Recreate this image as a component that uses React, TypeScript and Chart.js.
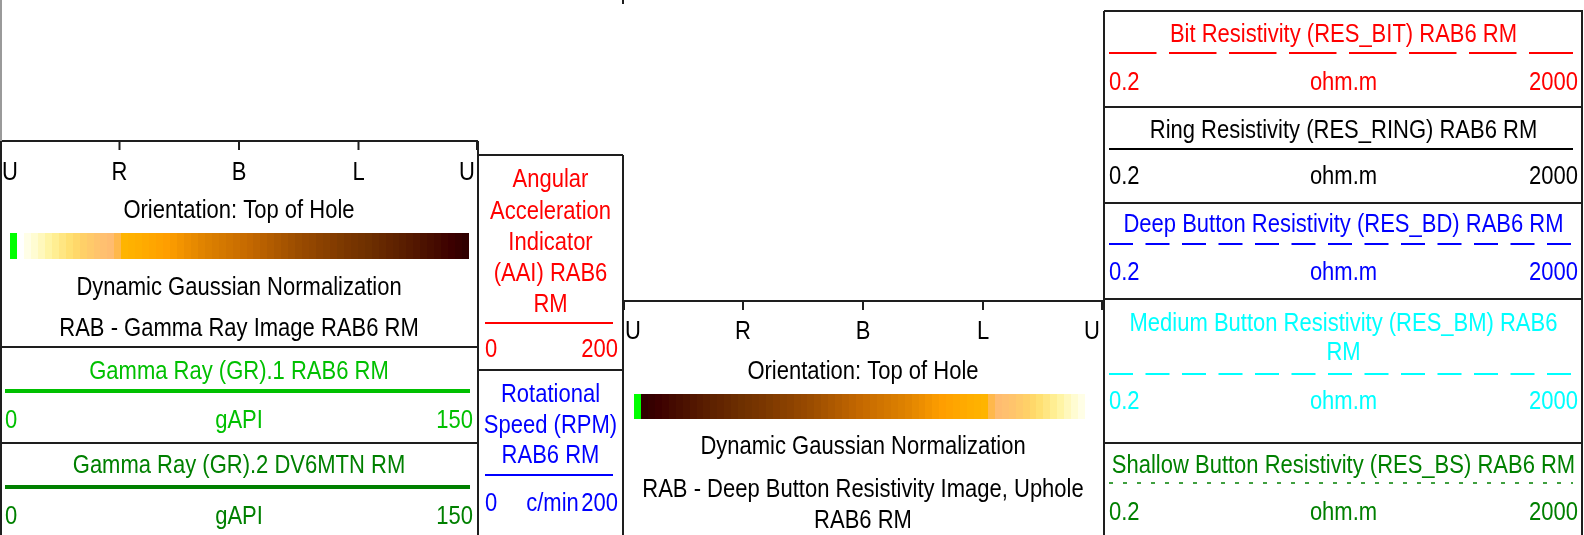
import React, { useEffect, useRef } from 'react';
import { Chart, registerables } from 'chart.js';

Chart.register(...registerables);

// ---------- data ----------
const ORIENTATION_TICKS = ['U', 'R', 'B', 'L', 'U'];
const IMAGE_ORIENTATION = 'Orientation: Top of Hole';
const IMAGE_NORMALIZATION = 'Dynamic Gaussian Normalization';
const IMAGE_NAMES = ['RAB - Gamma Ray Image RAB6 RM', 'RAB - Deep Button Resistivity Image, Uphole\nRAB6 RM'];
const IMAGE_NULL_COLOR = '#00ff00';
const IMAGE_PALETTE = [
  '#fffee6', '#fffcd2', '#fff8bc', '#fff4a4', '#ffee92', '#ffe682', '#ffe072', '#ffd86a',
  '#ffd068', '#ffca6a', '#ffc46c', '#ffc070', '#ffbc70', '#ffb84c', '#ffb400', '#ffb100',
  '#ffae00', '#ffaa00', '#ffa600', '#ffa200', '#ff9e00', '#f99a00', '#f39400', '#ed8e00',
  '#e78a00', '#e18400', '#dc8000', '#d87c00', '#d47800', '#d07400', '#cc7000', '#c86c00',
  '#c46800', '#be6400', '#b86000', '#b25c00', '#ac5800', '#a65400', '#a05000', '#9a4c00',
  '#964800', '#924600', '#8c4200', '#884000', '#843c00', '#7e3a00', '#7a3600', '#763400',
  '#723200', '#6e3000', '#6a2c00', '#662800', '#622400', '#5e2200', '#5a1e00', '#561a00',
  '#521600', '#4c1200', '#480e00', '#440a00', '#400400', '#3c0000', '#360000', '#300000',
];

const CURVE_NAMES = [
  'Gamma Ray (GR).1 RAB6 RM',
  'Gamma Ray (GR).2 DV6MTN RM',
  'Angular\nAcceleration\nIndicator\n(AAI) RAB6\nRM',
  'Rotational\nSpeed (RPM)\nRAB6 RM',
  'Bit Resistivity (RES_BIT) RAB6 RM',
  'Ring Resistivity (RES_RING) RAB6 RM',
  'Deep Button Resistivity (RES_BD) RAB6 RM',
  'Medium Button Resistivity (RES_BM) RAB6\nRM',
  'Shallow Button Resistivity (RES_BS) RAB6 RM',
];
const CURVE_UNITS = ['gAPI', 'gAPI', '', 'c/min', 'ohm.m', 'ohm.m', 'ohm.m', 'ohm.m', 'ohm.m'];
const CURVE_LEFT = ['0', '0', '0', '0', '0.2', '0.2', '0.2', '0.2', '0.2'];
const CURVE_RIGHT = ['150', '150', '200', '200', '2000', '2000', '2000', '2000', '2000'];
const CURVE_COLORS = ['#00c000', '#008000', '#ff0000', '#0000ff', '#ff0000', '#000000', '#0000ff', '#00ffff', '#008000'];

// ---------- layout (page pixels) ----------
const W = 1584;
const H = 535;
const FONT = '22px "Liberation Sans", Arial, sans-serif';
const TEXT_STRETCH = 1.2;
const BORDER = '#1e1e1e';

const IMAGE_BOXES = [
  { x0: 0, x1: 478, axisY: 141, tickLen: 9, tickLabelY: 173, orientY: 211, barTop: 233, barBot: 259, nullX0: 10, nullX1: 17, gradX0: 24, gradX1: 469, reverse: false, normY: 288, nameY: 329, nameStep: 31 },
  { x0: 623, x1: 1103, axisY: 301, tickLen: 9, tickLabelY: 332, orientY: 372, barTop: 394, barBot: 419, nullX0: 634, nullX1: 641, gradX0: 641, gradX1: 1085, reverse: true, normY: 447, nameY: 490, nameStep: 31 },
];

const CURVE_BOXES = [
  { x0: 0, x1: 478, titleY: 372, step: 31, lineY: 391, lineX0: 5, lineX1: 470, lw: 4, dash: [], labelY: 421, lx: 5, rx: 473 },
  { x0: 0, x1: 478, titleY: 466, step: 31, lineY: 487, lineX0: 5, lineX1: 470, lw: 4, dash: [], labelY: 517, lx: 5, rx: 473 },
  { x0: 478, x1: 623, titleY: 180, step: 31.3, lineY: 323, lineX0: 485, lineX1: 613, lw: 2, dash: [], labelY: 350, lx: 485, rx: 618 },
  { x0: 478, x1: 623, titleY: 395, step: 30.5, lineY: 475, lineX0: 485, lineX1: 613, lw: 2, dash: [], labelY: 504, lx: 485, rx: 618 },
  { x0: 1104, x1: 1583, titleY: 35, step: 30, lineY: 53, lineX0: 1109, lineX1: 1573, lw: 2, dash: [47.5, 12.5], labelY: 83, lx: 1109, rx: 1578 },
  { x0: 1104, x1: 1583, titleY: 131, step: 30, lineY: 149, lineX0: 1109, lineX1: 1573, lw: 2, dash: [], labelY: 177, lx: 1109, rx: 1578 },
  { x0: 1104, x1: 1583, titleY: 225, step: 30, lineY: 244, lineX0: 1109, lineX1: 1573, lw: 2, dash: [24, 12.5], labelY: 273, lx: 1109, rx: 1578 },
  { x0: 1104, x1: 1583, titleY: 324, step: 29, lineY: 374, lineX0: 1109, lineX1: 1573, lw: 2, dash: [24, 12.5], labelY: 402, lx: 1109, rx: 1578 },
  { x0: 1104, x1: 1583, titleY: 466, step: 30, lineY: 483, lineX0: 1109, lineX1: 1573, lw: 1.5, dash: [4, 10], labelY: 513, lx: 1109, rx: 1578 },
];

// border segments: [x0, y0, x1, y1, color]
const BORDERS: [number, number, number, number, string][] = [
  [1, 0, 1, 141, '#9a9a9a'],
  [1, 141, 1, H, BORDER],
  [0, 347, 478, 347, BORDER],
  [0, 443, 478, 443, BORDER],
  [478, 141, 478, H, BORDER],
  [478, 155, 623, 155, BORDER],
  [478, 370, 623, 370, BORDER],
  [623, 155, 623, H, BORDER],
  [623, 0, 623, 4, BORDER],
  [1104, 11, 1104, H, BORDER],
  [1582, 11, 1582, H, BORDER],
  [1104, 11, 1583, 11, BORDER],
  [1104, 107, 1583, 107, BORDER],
  [1104, 203, 1583, 203, BORDER],
  [1104, 299, 1583, 299, BORDER],
  [1104, 443, 1583, 443, BORDER],
];

const headerPlugin = {
  id: 'logHeader',
  afterDraw(chart: any) {
    const ctx = chart.ctx as CanvasRenderingContext2D;
    const sx = chart.scales.x;
    const sy = chart.scales.y;
    const X = (v: number) => sx.getPixelForValue(v);
    const Y = (v: number) => sy.getPixelForValue(v);
    ctx.save();
    ctx.font = FONT;
    ctx.textBaseline = 'middle';

    const line = (x0: number, y0: number, x1: number, y1: number, color: string, lw: number, dash: number[] = []) => {
      ctx.beginPath();
      ctx.setLineDash(dash);
      ctx.strokeStyle = color;
      ctx.lineWidth = lw;
      ctx.moveTo(X(x0), Y(y0));
      ctx.lineTo(X(x1), Y(y1));
      ctx.stroke();
      ctx.setLineDash([]);
    };
    const text = (t: string, x: number, y: number, color: string, align: CanvasTextAlign) => {
      ctx.save();
      ctx.fillStyle = color;
      ctx.textAlign = align;
      ctx.translate(X(x), Y(y));
      ctx.scale(1, TEXT_STRETCH);
      ctx.fillText(t, 0, 0);
      ctx.restore();
    };

    // image tracks
    IMAGE_BOXES.forEach((b, bi) => {
      line(b.x0, b.axisY, b.x1, b.axisY, BORDER, 2);
      const n = ORIENTATION_TICKS.length;
      ORIENTATION_TICKS.forEach((t, i) => {
        const tx = b.x0 + ((b.x1 - b.x0) * i) / (n - 1);
        const drawX = i === 0 ? tx + 1 : i === n - 1 ? tx - 1 : tx;
        line(drawX, b.axisY, drawX, b.axisY + b.tickLen, BORDER, 2);
        const align: CanvasTextAlign = i === 0 ? 'left' : i === n - 1 ? 'right' : 'center';
        const lx = i === 0 ? tx + 2 : i === n - 1 ? tx - 3 : tx;
        text(t, lx, b.tickLabelY, '#000', align);
      });
      const cx = (b.x0 + b.x1) / 2;
      text(IMAGE_ORIENTATION, cx, b.orientY, '#000', 'center');
      ctx.fillStyle = IMAGE_NULL_COLOR;
      ctx.fillRect(X(b.nullX0), Y(b.barTop), X(b.nullX1) - X(b.nullX0), Y(b.barBot) - Y(b.barTop));
      const pal = b.reverse ? [...IMAGE_PALETTE].reverse() : IMAGE_PALETTE;
      const stepW = (b.gradX1 - b.gradX0) / pal.length;
      pal.forEach((c, i) => {
        const a = Math.round(X(b.gradX0 + i * stepW));
        const e = Math.round(X(b.gradX0 + (i + 1) * stepW));
        ctx.fillStyle = c;
        ctx.fillRect(a, Y(b.barTop), e - a, Y(b.barBot) - Y(b.barTop));
      });
      text(IMAGE_NORMALIZATION, cx, b.normY, '#000', 'center');
      IMAGE_NAMES[bi].split('\n').forEach((l, li) => text(l, cx, b.nameY + li * b.nameStep, '#000', 'center'));
    });

    // curve tracks
    CURVE_BOXES.forEach((b, i) => {
      const color = CURVE_COLORS[i];
      const cx = (b.x0 + b.x1) / 2;
      CURVE_NAMES[i].split('\n').forEach((l, li) => text(l, cx, b.titleY + li * b.step, color, 'center'));
      line(b.lineX0, b.lineY, b.lineX1, b.lineY, color, b.lw, b.dash);
      text(CURVE_LEFT[i], b.lx, b.labelY, color, 'left');
      text(CURVE_RIGHT[i], b.rx, b.labelY, color, 'right');
      if (CURVE_UNITS[i]) text(CURVE_UNITS[i], i === 3 ? cx + 2 : cx, b.labelY, color, 'center');
    });

    BORDERS.forEach(([x0, y0, x1, y1, c]) => line(x0, y0, x1, y1, c, 2));
    ctx.restore();
  },
};

export default function App() {
  const ref = useRef<HTMLCanvasElement | null>(null);
  useEffect(() => {
    if (!ref.current) return;
    const chart = new Chart(ref.current, {
      type: 'scatter',
      data: { datasets: [] },
      options: {
        animation: false,
        responsive: true,
        maintainAspectRatio: false,
        events: [],
        layout: { padding: 0 },
        plugins: { legend: { display: false }, tooltip: { enabled: false } },
        scales: {
          x: { type: 'linear', min: 0, max: W, display: false },
          y: { type: 'linear', min: 0, max: H, reverse: true, display: false },
        },
      },
      plugins: [headerPlugin],
    });
    return () => chart.destroy();
  }, []);
  return (
    <div style={{ position: 'absolute', left: 0, top: 0, width: W, height: H, background: '#fff' }}>
      <canvas ref={ref} />
    </div>
  );
}
